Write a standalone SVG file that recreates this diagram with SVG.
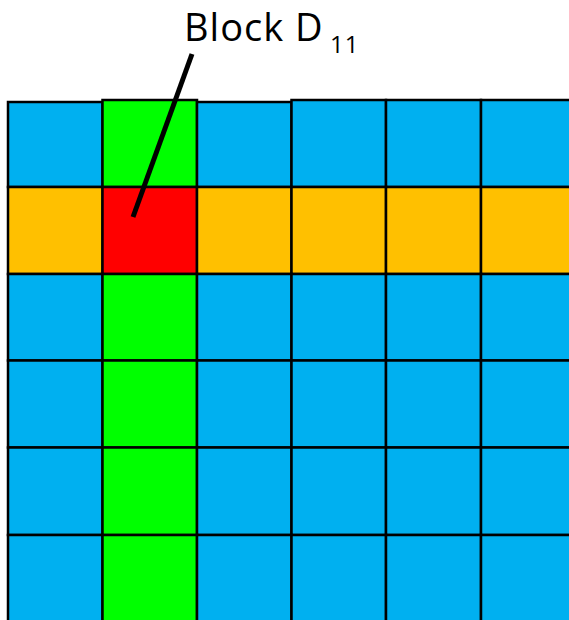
<svg xmlns="http://www.w3.org/2000/svg" width="569" height="620" viewBox="0 0 569 620">
<style>
rect{stroke:#000;stroke-width:2.5}
.b{fill:#00B0F0}.g{fill:#00FF00}.o{fill:#FFC000}.r{fill:#FF0000}
text{font-family:"Open Sans","Liberation Sans",sans-serif;fill:#000}
</style>
<rect width="569" height="620" fill="#fff" style="stroke:none"/>
<g id="row0">
<rect class="b" x="8" y="102" width="94.5" height="85"/>
<rect class="g" x="102.5" y="100" width="94.5" height="87"/>
<rect class="b" x="197" y="102" width="94.5" height="85"/>
<rect class="b" x="291.5" y="100" width="94.5" height="87"/>
<rect class="b" x="386" y="100" width="95" height="87"/>
<rect class="b" x="481" y="100" width="95" height="87"/>
</g>
<g id="row1">
<rect class="o" x="8" y="187" width="94.5" height="87"/>
<rect class="r" x="102.5" y="187" width="94.5" height="87"/>
<rect class="o" x="197" y="187" width="94.5" height="87"/>
<rect class="o" x="291.5" y="187" width="94.5" height="87"/>
<rect class="o" x="386" y="187" width="95" height="87"/>
<rect class="o" x="481" y="187" width="95" height="87"/>
</g>
<g id="row2">
<rect class="b" x="8" y="274" width="94.5" height="86.5"/>
<rect class="g" x="102.5" y="274" width="94.5" height="86.5"/>
<rect class="b" x="197" y="274" width="94.5" height="86.5"/>
<rect class="b" x="291.5" y="274" width="94.5" height="86.5"/>
<rect class="b" x="386" y="274" width="95" height="86.5"/>
<rect class="b" x="481" y="274" width="95" height="86.5"/>
</g>
<g id="row3">
<rect class="b" x="8" y="360.5" width="94.5" height="87"/>
<rect class="g" x="102.5" y="360.5" width="94.5" height="87"/>
<rect class="b" x="197" y="360.5" width="94.5" height="87"/>
<rect class="b" x="291.5" y="360.5" width="94.5" height="87"/>
<rect class="b" x="386" y="360.5" width="95" height="87"/>
<rect class="b" x="481" y="360.5" width="95" height="87"/>
</g>
<g id="row4">
<rect class="b" x="8" y="447.5" width="94.5" height="87.5"/>
<rect class="g" x="102.5" y="447.5" width="94.5" height="87.5"/>
<rect class="b" x="197" y="447.5" width="94.5" height="87.5"/>
<rect class="b" x="291.5" y="447.5" width="94.5" height="87.5"/>
<rect class="b" x="386" y="447.5" width="95" height="87.5"/>
<rect class="b" x="481" y="447.5" width="95" height="87.5"/>
</g>
<g id="row5">
<rect class="b" x="8" y="535" width="94.5" height="90"/>
<rect class="g" x="102.5" y="535" width="94.5" height="90"/>
<rect class="b" x="197" y="535" width="94.5" height="90"/>
<rect class="b" x="291.5" y="535" width="94.5" height="90"/>
<rect class="b" x="386" y="535" width="95" height="90"/>
<rect class="b" x="481" y="535" width="95" height="90"/>
</g>
<g id="connectors">
<line x1="192" y1="54" x2="133" y2="217" stroke="#000" stroke-width="5"/>
</g>
<g id="label">
<text x="184" y="40.6" font-size="38" letter-spacing="1">Block D</text>
<text x="330" y="53" font-size="24" letter-spacing="1">11</text>
</g>
</svg>
